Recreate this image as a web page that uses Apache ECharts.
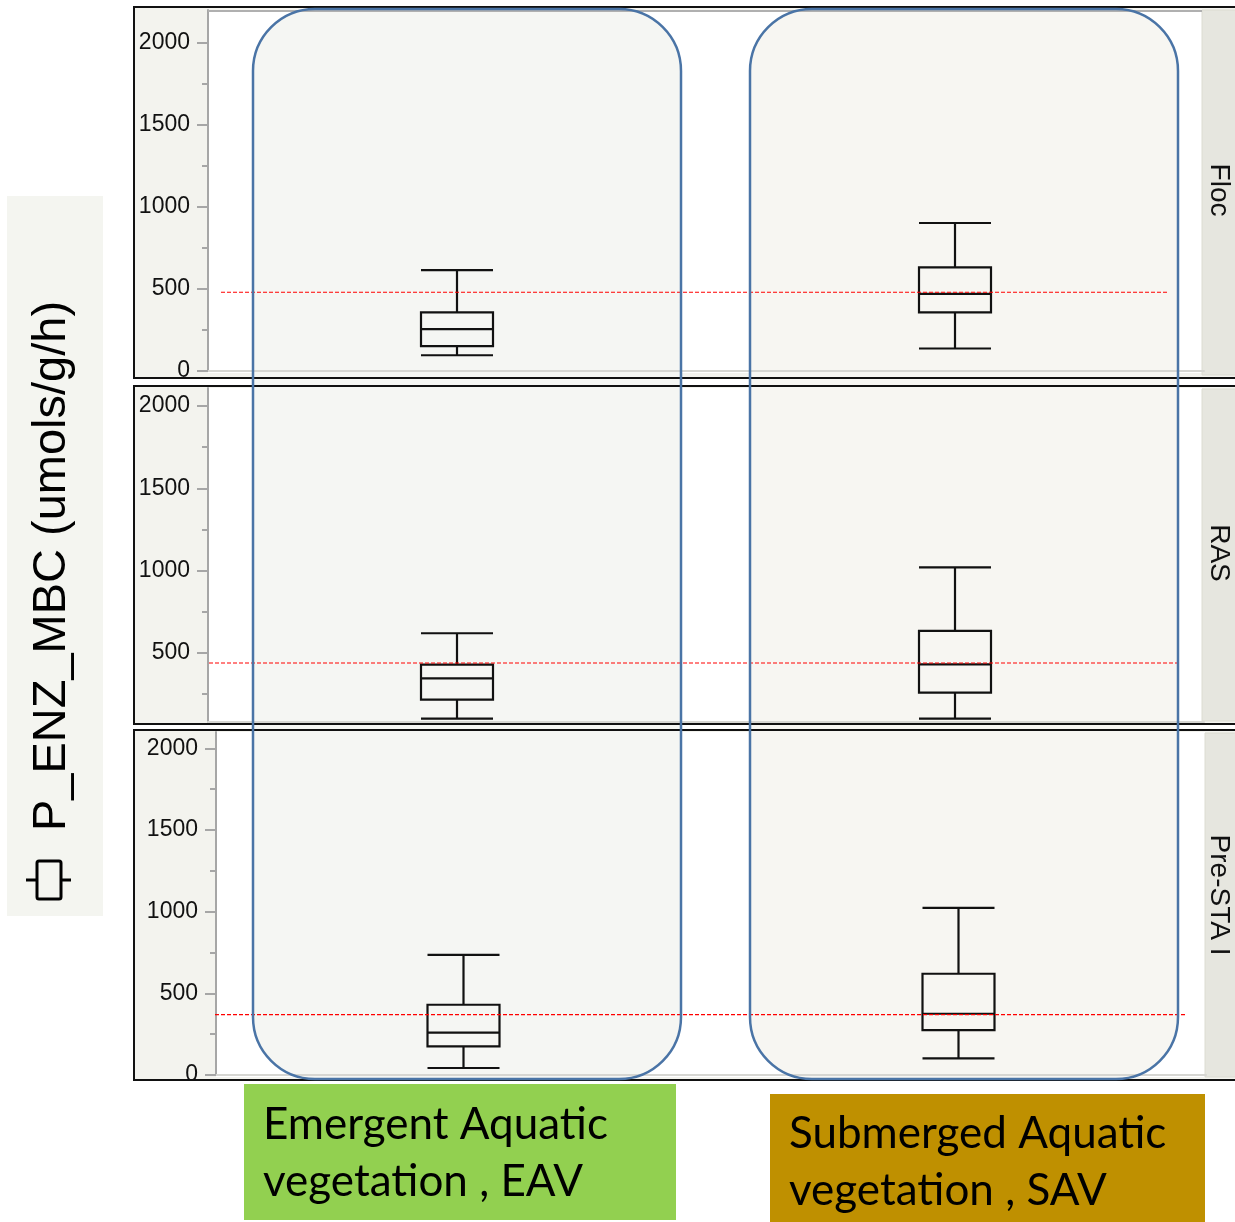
<!DOCTYPE html>
<html>
<head>
<meta charset="utf-8">
<script src="https://cdn.jsdelivr.net/npm/echarts@6/dist/echarts.min.js"></script>
<style>
html,body{margin:0;padding:0;background:#fff;}
#chart{width:1235px;height:1222px;}
</style>
</head>
<body>
<div id="chart"></div>
<script>
// ---- data ----
const categories = ['EAV', 'SAV'];
const panelNames = ['Floc', 'RAS', 'Pre-STA I'];
// [low whisker, Q1, median, Q3, high whisker] for EAV, SAV
const flocBox = [[96, 151, 255, 357, 615], [137, 357, 470, 632, 902]];
const rasBox  = [[99, 214, 344, 427, 618], [99, 257, 429, 632, 1019]];
const preBox  = [[43, 175, 259, 430, 735], [102, 275, 375, 620, 1023]];
const meanLines = [480, 437, 370];
const majorTicks = [0, 500, 1000, 1500, 2000];
const minorTicks = [250, 750, 1250, 1750];
const yMin = [0, 78, 0];
const yMax = [2200, 2110, 2100];
const yTitle = 'P_ENZ_MBC (umols/g/h)';
const groupLabels = ['Emergent Aquatic\nvegetation , EAV', 'Submerged Aquatic\nvegetation , SAV'];

const boxes = [flocBox, rasBox, preBox];

// ---- layout ----
const grids = [
  {left: 208, top: 10, width: 996, height: 361},
  {left: 208, top: 388, width: 996, height: 334},
  {left: 216, top: 732, width: 990, height: 343}
];
const panelsBox = [
  {y: 7, h: 371, strip: 1202},
  {y: 386, h: 338, strip: 1202},
  {y: 730, h: 350, strip: 1205}
];
// pixel extents of the dashed reference lines
const refLineSpan = [[221, 1167], [185, 1178], [185, 1187]];

const chart = echarts.init(document.getElementById('chart'));
const font = '"Liberation Sans", Arial, sans-serif';

const xAxis = [], yAxis = [], series = [];
grids.forEach((g, i) => {
  xAxis.push({
    type: 'category', gridIndex: i, data: categories, boundaryGap: true,
    axisLine: {show: true, onZero: false, lineStyle: {color: '#d6d6d2', width: 2}},
    axisTick: {show: false}, axisLabel: {show: false}, splitLine: {show: false}
  });
  const inRange = v => v >= yMin[i] && v <= yMax[i];
  yAxis.push({
    type: 'value', gridIndex: i, position: 'left', min: yMin[i], max: yMax[i],
    axisLine: {show: true, onZero: false, lineStyle: {color: '#a6a6a6', width: 2}},
    axisTick: {show: true, length: 11, lineStyle: {color: '#a6a6a6', width: 2}, customValues: majorTicks.filter(inRange)},
    axisLabel: {show: true, margin: 18, fontSize: 23, color: '#111', fontFamily: font,
      customValues: majorTicks.filter(inRange), formatter: v => String(v)},
    splitLine: {show: false}
  });
  yAxis.push({
    type: 'value', gridIndex: i, position: 'left', offset: 0, min: yMin[i], max: yMax[i],
    axisLine: {show: false, onZero: false},
    axisTick: {show: true, length: 6, lineStyle: {color: '#a6a6a6', width: 2}, customValues: minorTicks.filter(inRange)},
    axisLabel: {show: false}, splitLine: {show: false}
  });
  series.push({
    type: 'boxplot', xAxisIndex: i, yAxisIndex: i * 2,
    data: boxes[i], boxWidth: [72, 72], z: 5,
    itemStyle: {color: 'rgba(0,0,0,0)', borderColor: '#111', borderWidth: 2.2},
    emphasis: {disabled: true}, silent: true
  });
});
// hidden helper x axes: domain [0,1] mapped onto each reference line's pixel span
grids.forEach((g, i) => {
  const [a, b] = refLineSpan[i];
  const R = g.width / (b - a);
  const mn = (g.left - a) / g.width * R;
  xAxis.push({type: 'value', gridIndex: i, min: mn, max: mn + R, show: false,
    axisLine: {onZero: false}});
  series.push({
    type: 'line', xAxisIndex: 3 + i, yAxisIndex: i * 2, z: 6, silent: true, clip: false,
    symbol: 'none', animation: false,
    data: [[0, meanLines[i]], [1, meanLines[i]]],
    lineStyle: {color: '#ff0000', type: [4, 2], width: 1.2},
    itemStyle: {color: '#ff0000'}
  });
});

const gfx = [];
// panel backgrounds
panelsBox.forEach((p, i) => {
  const g = grids[i];
  gfx.push({type: 'rect', z: -20, shape: {x: 134, y: p.y, width: 1110, height: p.h}, style: {fill: '#f3f3ee'}});
  gfx.push({type: 'rect', z: -19, shape: {x: g.left, y: g.top, width: p.strip - g.left, height: g.height + 2}, style: {fill: '#ffffff'}});
  gfx.push({type: 'rect', z: -19, shape: {x: p.strip, y: p.y + 3, width: 40, height: p.h - 6}, style: {fill: '#e6e6df', stroke: '#dcdcd2', lineWidth: 1}});
  gfx.push({type: 'rect', z: 50, shape: {x: 134, y: p.y, width: 1110, height: p.h}, style: {fill: null, stroke: '#111', lineWidth: 2}});
});
const stripCenters = [190, 553, 895];
panelNames.forEach((n, i) => {
  gfx.push({type: 'text', z: 30, x: 1219, y: stripCenters[i], rotation: -Math.PI / 2,
    style: {text: n, fontSize: 28, fontFamily: font, fill: '#111', align: 'center', verticalAlign: 'middle'}});
});
// top gray line in first panel
gfx.push({type: 'line', z: 1, shape: {x1: 208, y1: 11, x2: 1202, y2: 11}, style: {stroke: '#b0b0b0', lineWidth: 2}});

// rounded column highlights
const cols = [{x: 253, fill: '#f5f6f3'}, {x: 750, fill: '#f7f6f2'}];
cols.forEach(c => {
  gfx.push({type: 'rect', z: -5, shape: {x: c.x, y: 9, width: 428, height: 1070, r: 62}, style: {fill: c.fill}});
  gfx.push({type: 'rect', z: 60, shape: {x: c.x, y: 9, width: 428, height: 1070, r: 62}, style: {fill: null, stroke: '#4a74a6', lineWidth: 2.5}});
});

// y-axis title block
gfx.push({type: 'rect', z: -20, shape: {x: 7, y: 196, width: 96, height: 720}, style: {fill: '#f4f5f0'}});
gfx.push({type: 'text', z: 30, x: 52, y: 566, rotation: Math.PI / 2,
  style: {text: yTitle, fontSize: 47, fontFamily: font, fill: '#000', align: 'center', verticalAlign: 'middle'}});
// boxplot icon
gfx.push({type: 'rect', z: 30, shape: {x: 37, y: 861, width: 24, height: 38, r: 2}, style: {fill: null, stroke: '#000', lineWidth: 3}});
gfx.push({type: 'line', z: 30, shape: {x1: 26, y1: 880, x2: 37, y2: 880}, style: {stroke: '#000', lineWidth: 3}});
gfx.push({type: 'line', z: 30, shape: {x1: 61, y1: 880, x2: 71, y2: 880}, style: {stroke: '#000', lineWidth: 3}});

// group label boxes
const labelFont = 'Lato, "Open Sans", sans-serif';
gfx.push({type: 'rect', z: 10, shape: {x: 244, y: 1084, width: 432, height: 136}, style: {fill: '#92d050'}});
gfx.push({type: 'text', z: 11, x: 263, y: 1096,
  style: {text: groupLabels[0], fontSize: 44, lineHeight: 57, fontFamily: labelFont, fill: '#000', align: 'left', verticalAlign: 'top'}});
gfx.push({type: 'rect', z: 10, shape: {x: 770, y: 1094, width: 435, height: 128}, style: {fill: '#bf9000'}});
gfx.push({type: 'text', z: 11, x: 789, y: 1105,
  style: {text: groupLabels[1], fontSize: 44, lineHeight: 57, fontFamily: labelFont, fill: '#000', align: 'left', verticalAlign: 'top'}});

chart.setOption({
  animation: false,
  backgroundColor: '#ffffff',
  grid: grids.map(g => Object.assign({containLabel: false}, g)),
  xAxis: xAxis,
  yAxis: yAxis,
  series: series,
  graphic: {elements: gfx}
});
</script>
</body>
</html>
